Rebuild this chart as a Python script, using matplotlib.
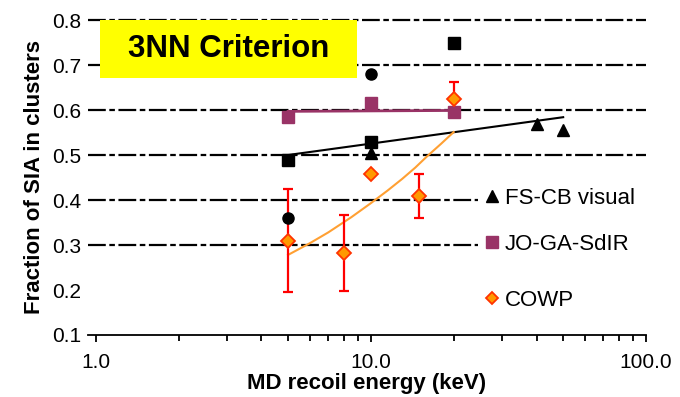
import matplotlib
matplotlib.use("Agg")
import matplotlib.pyplot as plt
import matplotlib.patches as mpatches
from matplotlib.lines import Line2D
from matplotlib.ticker import FixedLocator, FixedFormatter, LogLocator, NullFormatter
import numpy as np

plt.rcParams['font.family'] = ['Liberation Sans', 'DejaVu Sans']

# ---- data ----
sq_black_E = [5, 10, 20]
sq_black_v = [0.49, 0.53, 0.75]
circ_black_E = [5, 10]
circ_black_v = [0.36, 0.68]
fscb_E = [10, 40, 50]
fscb_v = [0.505, 0.57, 0.555]
fscb_fit_E = [5, 50]
fscb_fit_v = [0.50, 0.584]
joga_E = [5, 10, 20]
joga_v = [0.585, 0.615, 0.595]
joga_fit_E = [5, 20]
joga_fit_v = [0.597, 0.599]
cowp_E = [5, 8, 10, 15, 20]
cowp_v = [0.31, 0.282, 0.458, 0.409, 0.624]
cowp_err = [0.115, 0.085, 0.0, 0.048, 0.038]
cowp_fit_E = [5, 6, 7, 8.5, 10, 11.5, 13, 14.5, 16, 18, 20]
cowp_fit_v = [0.278, 0.304, 0.328, 0.362, 0.393, 0.421, 0.447, 0.472, 0.497, 0.525, 0.551]
grid_levels = [0.3, 0.4, 0.5, 0.6, 0.7, 0.8]
yticks = [0.1, 0.2, 0.3, 0.4, 0.5, 0.6, 0.7, 0.8]
ytick_labels = ["0.1", "0.2", "0.3", "0.4", "0.5", "0.6", "0.7", "0.8"]
xticks = [1, 10, 100]
xtick_labels = ["1.0", "10.0", "100.0"]
title_text = "3NN Criterion"

fig = plt.figure(figsize=(6.8, 3.97), dpi=100)
ax = fig.add_axes([88/680, 1-335/397, (646-88)/680, (335-20)/397])
ax.set_xscale('log')
ax.set_xlim(0.937, 100)
ax.set_ylim(0.1, 0.8)

for s in ['left', 'top', 'right']:
    ax.spines[s].set_visible(False)
ax.spines['bottom'].set_linewidth(1.3)

gridstyle = (0, (8, 1.6, 2.5, 1.6))
for g in grid_levels:
    ax.axhline(g, color='black', lw=1.6, ls=gridstyle, zorder=1, clip_on=False)

purple = '#993366'
ax.plot(fscb_fit_E, fscb_fit_v, color='black', lw=1.5, zorder=3)
ax.plot(joga_fit_E, joga_fit_v, color=purple, lw=2.0, zorder=3)
ax.plot(cowp_fit_E, cowp_fit_v, color='#FFA033', lw=1.5, zorder=3)

ax.plot(sq_black_E, sq_black_v, 's', color='black', ms=8, zorder=5)
ax.plot(circ_black_E, circ_black_v, 'o', color='black', ms=8, zorder=5)
ax.plot(fscb_E, fscb_v, '^', color='black', ms=9, zorder=5)
ax.plot(joga_E, joga_v, 's', color=purple, ms=9, zorder=5)

cE = np.array(cowp_E); cv = np.array(cowp_v); ce = np.array(cowp_err)
m = ce > 0
ax.errorbar(cE[m], cv[m], yerr=ce[m], fmt='none', ecolor='#FF0000', elinewidth=1.6,
            capsize=3.5, capthick=1.6, zorder=4)
ax.plot(cowp_E, cowp_v, 'D', mfc='#FF9900', mec='#FF3300', mew=1.3, ms=7, zorder=6)

ax.yaxis.set_major_locator(FixedLocator(yticks))
ax.yaxis.set_major_formatter(FixedFormatter(ytick_labels))
ax.tick_params(axis='y', length=0, pad=5, labelsize=15)
ax.xaxis.set_major_locator(FixedLocator(xticks))
ax.xaxis.set_major_formatter(FixedFormatter(xtick_labels))
ax.xaxis.set_minor_locator(LogLocator(base=10, subs=np.arange(2, 10)))
ax.xaxis.set_minor_formatter(NullFormatter())
ax.tick_params(axis='x', which='major', length=5, width=1.3, pad=8, labelsize=15)
ax.tick_params(axis='x', which='minor', length=4, width=1.3)

ax.set_xlabel("MD recoil energy (keV)", fontsize=16, fontweight='bold')
ax.xaxis.set_label_coords(0.5, (335-373)/315)
ax.set_ylabel("Fraction of SIA in clusters", fontsize=16, fontweight='bold', labelpad=5)

# legends
h1 = Line2D([], [], ls='none', marker='^', color='black', ms=9)
h2 = Line2D([], [], ls='none', marker='s', color=purple, ms=9)
h3 = Line2D([], [], ls='none', marker='D', mfc='#FF9900', mec='#FF3300', mew=1.3, ms=6)
leg_groups = [([h1, h2], ["FS-CB visual", "JO-GA-SdIR"], (335-221.5)/315),
              ([h3], ["COWP"], (335-300)/315)]
for hs, labs, ypos in leg_groups:
    lg = ax.legend(handles=hs, labels=labs, loc='center left',
                   bbox_to_anchor=((478-88)/558, ypos), borderaxespad=0,
                   borderpad=0.6, handlelength=0.1, handletextpad=0.5,
                   labelspacing=1.12,
                   frameon=True, facecolor='white', edgecolor='none', framealpha=1,
                   fontsize=16)
    lg.set_zorder(7)
    ax.add_artist(lg)

# title box
fig.patches.append(mpatches.Rectangle((100/680, 1-78/397), 257/680, 58/397,
                                      transform=fig.transFigure, facecolor='#FFFF00',
                                      edgecolor='none', zorder=10))
fig.text(228.5/680, 1-49/397, title_text, ha='center', va='center', fontsize=22.5,
         fontweight='bold', zorder=11)

fig.savefig("out.png", dpi=100)
